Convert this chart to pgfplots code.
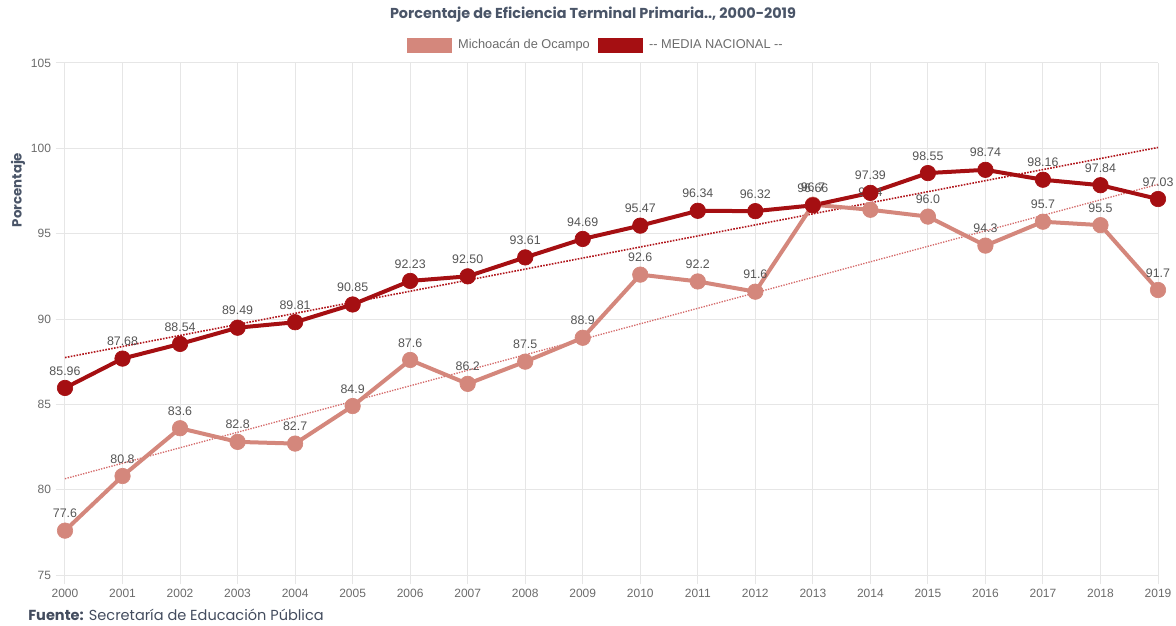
\documentclass[border=0pt]{standalone}
\usepackage{pgfplots}
\pgfplotsset{compat=1.18}
\usepackage{fontspec}
\setmainfont{Liberation Sans}
\newfontfamily\poppins{Poppins}
\definecolor{mich}{HTML}{D4877C}
\definecolor{nac}{HTML}{A50F12}
\definecolor{trendm}{HTML}{D46A6A}
\definecolor{trendn}{HTML}{B0141A}
\definecolor{titlec}{HTML}{4A5568}
\definecolor{tickc}{HTML}{6B6B6B}
\definecolor{labc}{HTML}{555555}
\definecolor{gridc}{HTML}{E6E6E6}
\pgfplotstableread{
year mich nac
2000 77.6 85.96
2001 80.8 87.68
2002 83.6 88.54
2003 82.8 89.49
2004 82.7 89.81
2005 84.9 90.85
2006 87.6 92.23
2007 86.2 92.50
2008 87.5 93.61
2009 88.9 94.69
2010 92.6 95.47
2011 92.2 96.34
2012 91.6 96.32
2013 96.7 96.66
2014 96.4 97.39
2015 96.0 98.55
2016 94.3 98.74
2017 95.7 98.16
2018 95.5 97.84
2019 91.7 97.03
}\datatable
\pgfplotstableread{
year mt nt
2000 80.64 87.74
2019 97.89 100.05
}\trendtable
\begin{document}
\begin{tikzpicture}
\useasboundingbox (-48.75pt,-37.5pt) rectangle (833.25pt,431.25pt);
\begin{axis}[
  scale only axis,
  width=819.75pt, height=384pt,
  xmin=2000, xmax=2019, ymin=75, ymax=105,
  xtick={2000,2001,...,2019},
  ytick={75,80,...,105},
  xticklabel style={/pgf/number format/1000 sep={}, font=\fontsize{9}{10}\selectfont, text=tickc},
  yticklabel style={font=\fontsize{9}{10}\selectfont, text=tickc},
  /pgf/number format/assume math mode=true,
  x tick label style={/pgf/number format/1000 sep={}},
  grid=major,
  major grid style={gridc, line width=0.75pt},
  tick style={gridc, line width=0.75pt},
  tickwidth=7pt,
  tick align=outside,
  xtick pos=bottom, ytick pos=left,
  axis line style={draw=none},
  clip=false,
  legend columns=2,
  legend style={draw=none, fill=none, at={(0.486,1.035)}, anchor=center,
    font=\fontsize{9.6}{10}\selectfont\color{tickc},
    /tikz/every even column/.append style={column sep=4pt}},
  legend cell align=left,
]
\addlegendimage{legend image code/.code={\fill[mich] (0pt,-5.25pt) rectangle (33pt,5.25pt); \path (36pt,0pt);}}
\addlegendentry{Michoacán de Ocampo}
\addlegendimage{legend image code/.code={\fill[nac] (0pt,-5.25pt) rectangle (33pt,5.25pt); \path (36pt,0pt);}}
\addlegendentry{-{}- MEDIA NACIONAL -{}-}
\addplot[forget plot, trendn, line width=1.2pt, densely dotted] table[x=year,y=nt] {\trendtable};
\addplot[forget plot, trendm, line width=1pt, densely dotted] table[x=year,y=mt] {\trendtable};
\addplot[forget plot, mich, line width=3pt, mark=*, mark size=5.8pt, mark options={fill=mich, draw=mich, line width=0.5pt},
  nodes near coords, nodes near coords style={font=\fontsize{9.3}{10}\selectfont, text=labc, anchor=south, yshift=6pt, /pgf/number format/.cd, fixed, fixed zerofill, precision=1, assume math mode=true}]
  table[x=year,y=mich] {\datatable};
\addplot[forget plot, nac, line width=3pt, mark=*, mark size=5.8pt, mark options={fill=nac, draw=nac, line width=0.5pt},
  nodes near coords, nodes near coords style={font=\fontsize{9.3}{10}\selectfont, text=labc, anchor=south, yshift=6pt, /pgf/number format/.cd, fixed, fixed zerofill, precision=2, assume math mode=true}]
  table[x=year,y=nac] {\datatable};
\end{axis}
\node[font=\poppins\bfseries\fontsize{10.8}{12}\selectfont, text=titlec] at (396pt,420pt) {Porcentaje de Eficiencia Terminal Primaria.., 2000-2019};
\node[font=\poppins\bfseries\fontsize{10}{12}\selectfont, text=titlec, rotate=90] at (-35.25pt,288.75pt) {Porcentaje};
\node[font=\poppins\fontsize{10.9}{12}\selectfont, text=titlec!90!black, anchor=west, inner sep=0pt] at (-27.75pt,-30pt) {\textbf{Fuente:} Secretaría de Educación Pública};
\end{tikzpicture}
\end{document}
